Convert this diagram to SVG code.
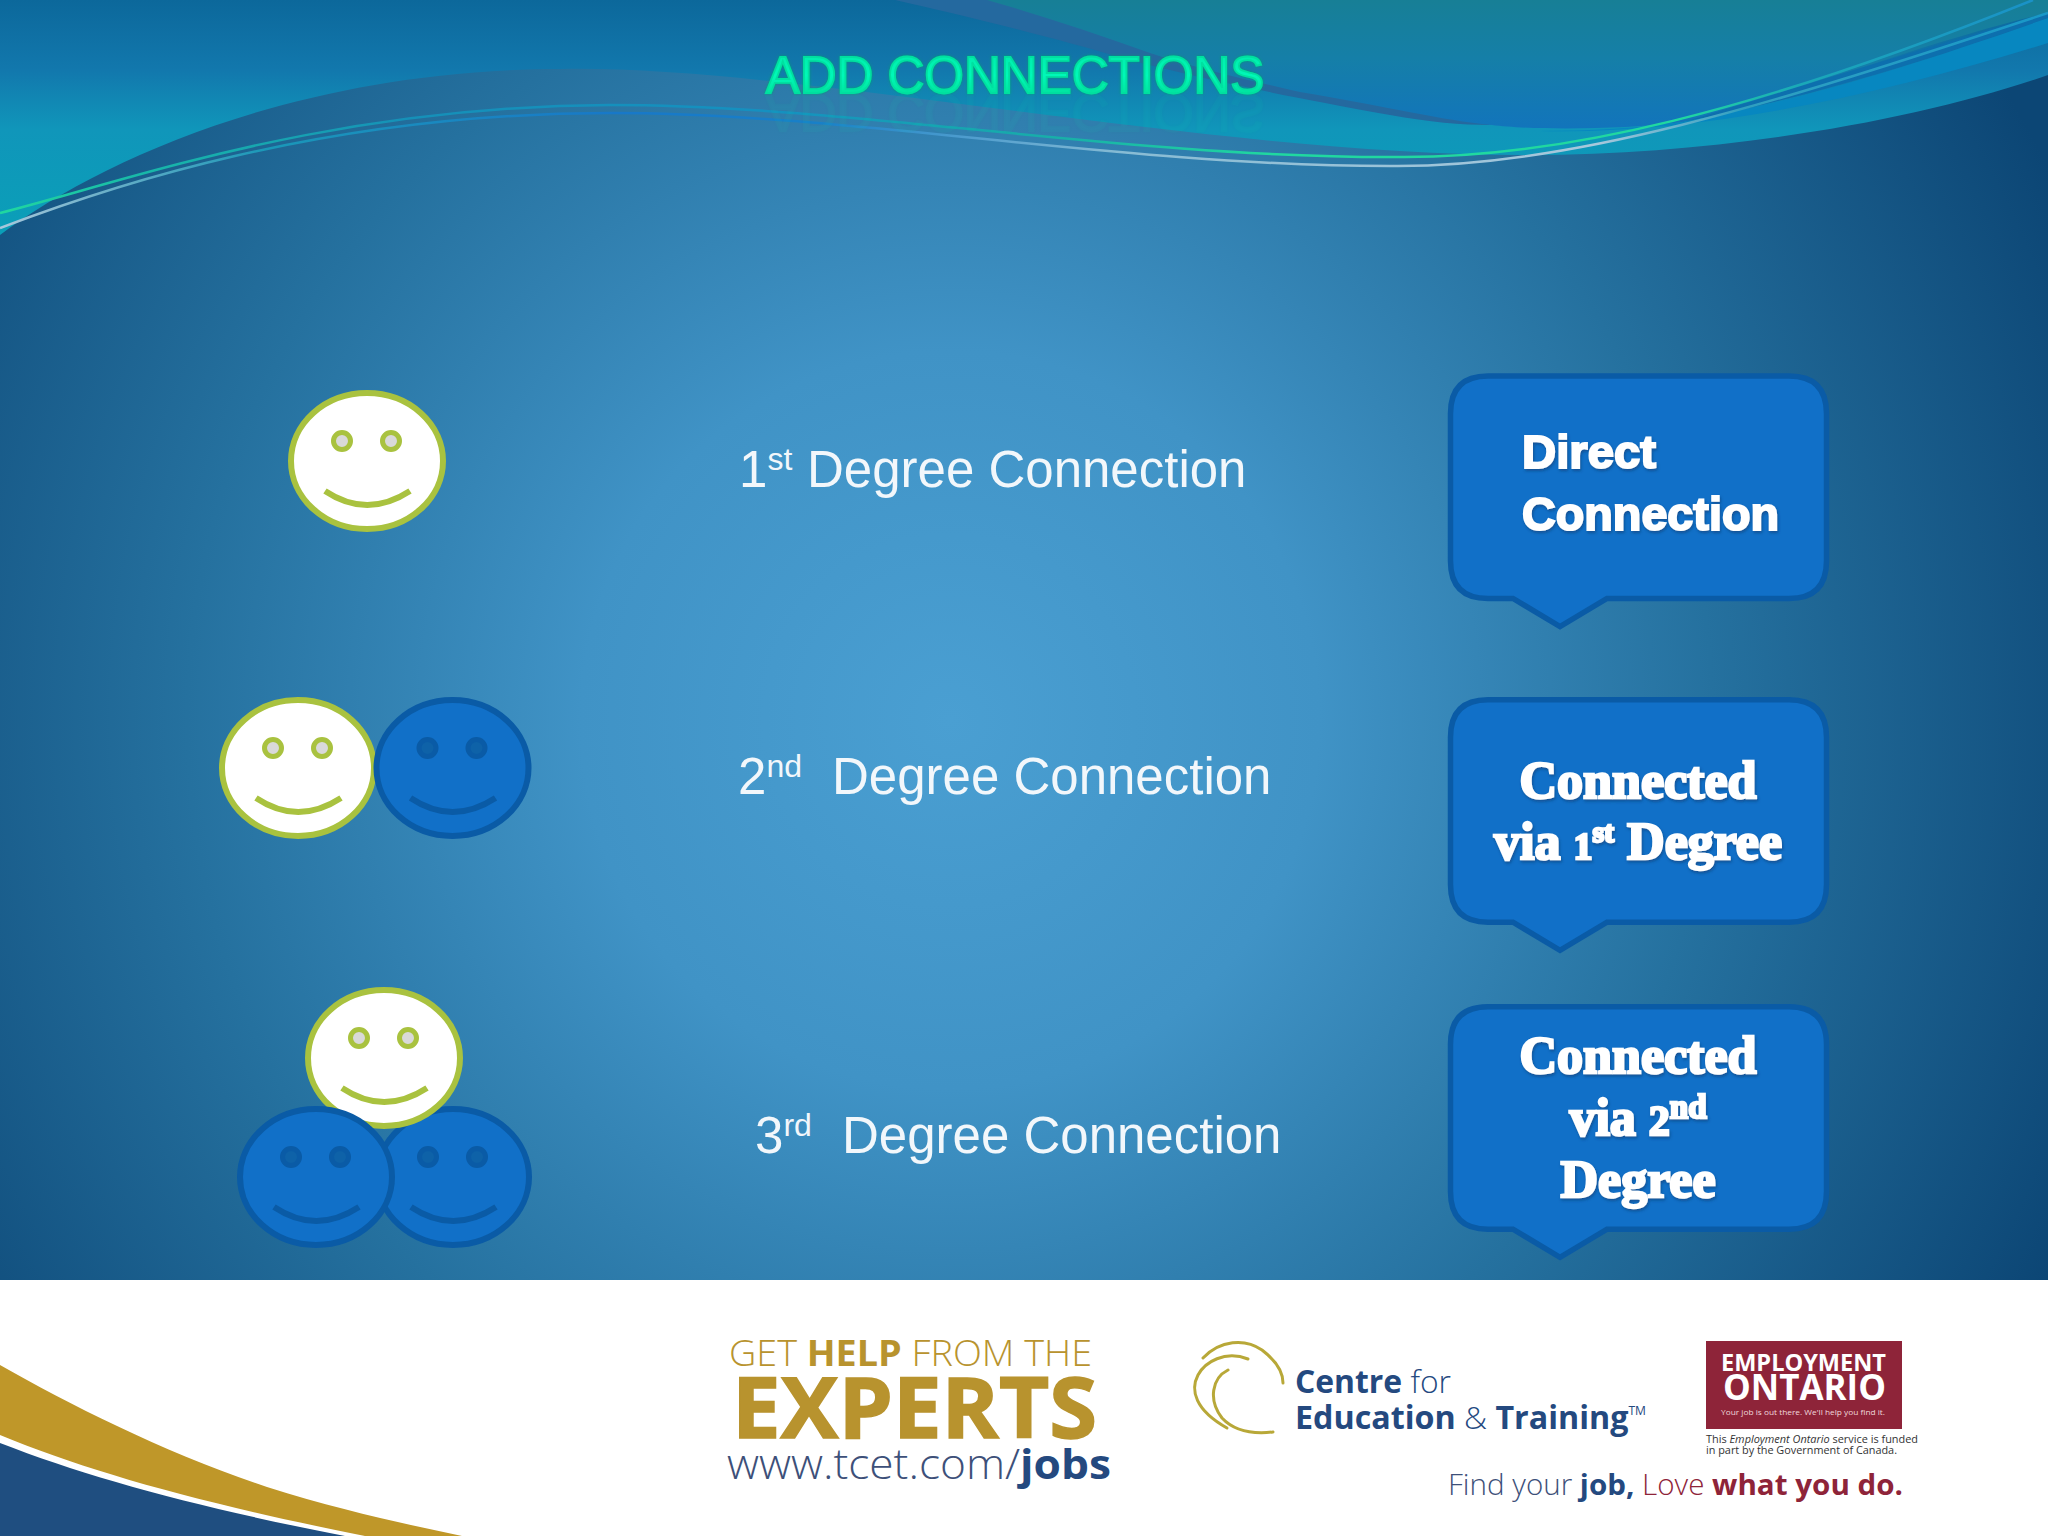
<svg xmlns="http://www.w3.org/2000/svg" width="2048" height="1536" viewBox="0 0 2048 1536">
<style>
.lbl{font-family:"Liberation Sans",Arial,sans-serif;font-size:51px;fill:#f2f7fb}
.sup{font-size:32px}
.sa{font-family:"Liberation Sans",Arial,sans-serif;font-weight:700;font-size:47px;fill:#fff;stroke:#fff;stroke-width:2px;filter:url(#sh)}
.se{font-family:"Liberation Serif","Times New Roman",serif;font-weight:700;font-size:52px;fill:#fff;stroke:#fff;stroke-width:2.500px;text-anchor:middle;filter:url(#sh)}
.bub{fill:#1170c8;stroke:#0a5ba6;stroke-width:5.5}
.os{font-family:"Open Sans","Liberation Sans",sans-serif}
.wf{fill:#fff;stroke:#a9c23f;stroke-width:6}.wl{fill:none;stroke:#a9c23f;stroke-width:6}.we{fill:#d9d9d9;stroke:#a9c23f;stroke-width:5}
.bf{fill:#1170c8;stroke:#0a5ba6;stroke-width:6}.bl{fill:none;stroke:#0a5ba6;stroke-width:6}.be{fill:#0e62a8;stroke:#0a5ba6;stroke-width:5}
</style>
<defs>
<radialGradient id="bg" gradientUnits="userSpaceOnUse" cx="950" cy="720" r="1230">
<stop offset="0" stop-color="#4a9fd2"/><stop offset=".3" stop-color="#4093c6"/><stop offset=".62" stop-color="#25719f"/><stop offset="1" stop-color="#0c4675"/>
</radialGradient>
<linearGradient id="tp" gradientUnits="userSpaceOnUse" x1="0" y1="0" x2="0" y2="235"><stop offset="0" stop-color="#0c689b"/><stop offset=".3" stop-color="#1278ad"/><stop offset=".55" stop-color="#1096ba"/><stop offset="1" stop-color="#0a9fb8"/></linearGradient>
<linearGradient id="in" gradientUnits="userSpaceOnUse" x1="0" y1="0" x2="0" y2="130"><stop offset="0" stop-color="#177f96"/><stop offset=".45" stop-color="#157fa8"/><stop offset="1" stop-color="#1274bc"/></linearGradient>
<linearGradient id="tl" x1="0" y1="0" x2="0" y2="1"><stop offset="0" stop-color="#00e8a8"/><stop offset=".5" stop-color="#00f8b8"/><stop offset="1" stop-color="#00d890"/></linearGradient>
<linearGradient id="l1" gradientUnits="userSpaceOnUse" x1="0" y1="0" x2="2048" y2="0"><stop offset="0" stop-color="#20d8a0"/><stop offset=".07" stop-color="#18b8a8"/><stop offset=".2" stop-color="#1590b8"/><stop offset=".38" stop-color="#1590c0"/><stop offset=".52" stop-color="#18b0a8"/><stop offset=".62" stop-color="#20d8a0"/><stop offset=".82" stop-color="#20d8a0"/><stop offset=".88" stop-color="#1aa8b8"/><stop offset="1" stop-color="#1a90c8"/></linearGradient>
<linearGradient id="l2" gradientUnits="userSpaceOnUse" x1="0" y1="0" x2="2048" y2="0"><stop offset="0" stop-color="#a8c8dc"/><stop offset=".05" stop-color="#6cb0c8"/><stop offset=".13" stop-color="#1a98b8"/><stop offset=".3" stop-color="#1878c8"/><stop offset=".4" stop-color="#1880c8"/><stop offset=".55" stop-color="#88bcd4"/><stop offset=".78" stop-color="#a8c8dc"/><stop offset=".85" stop-color="#30a0c0"/><stop offset="1" stop-color="#1898c8"/></linearGradient>
<filter id="sh" x="-10%" y="-20%" width="120%" height="140%"><feDropShadow dx="1" dy="2" stdDeviation="1.5" flood-color="#083a70" flood-opacity=".6"/></filter>
<filter id="tg" x="-5%" y="-30%" width="110%" height="160%"><feDropShadow dx="0" dy="0" stdDeviation="1.5" flood-color="#00a070" flood-opacity=".9"/></filter>
<g id="smw"><ellipse class="wf" rx="76" ry="68"/><circle class="we" cx="-25" cy="-20" r="8.5"/><circle class="we" cx="24" cy="-20" r="8.5"/><path class="wl" d="M-42 30Q0 58 43 30"/></g>
<g id="smb"><ellipse class="bf" rx="76" ry="68"/><circle class="be" cx="-25" cy="-20" r="8.5"/><circle class="be" cx="24" cy="-20" r="8.5"/><path class="bl" d="M-42 30Q0 58 43 30"/></g>
<path id="bb" d="M1488 373.5H1789Q1826.500 373.500 1826.500 411V558.500Q1826.500 596 1789 596H1607L1560 624L1513 596H1488Q1450.500 596 1450.500 558.500V411Q1450.500 373.500 1488 373.500Z"/>
</defs>
<g id="background">
<rect width="2048" height="1280" fill="url(#bg)"/>
<path d="M0 235C100 160 300 69 561 69C800 65 1200 155 1530 155C1720 155 1920 120 2048 75V0H0Z" fill="url(#tp)"/>
<path d="M895 0C960 15 1038 33 1130 60C1200 78 1268 93 1390 115C1430 122 1460 125 1492 125L1390 100L1100 0Z" fill="#24699f"/>
<path d="M987 0C1040 15 1094 33 1150 53C1200 70 1263 83 1300 92C1390 107 1440 120 1492 125C1530 130 1620 130 1683 122C1790 95 1930 40 2048 13V0Z" fill="url(#in)"/>
<path d="M1683 122C1800 87 1900 55 2048 13V18C1930 60 1800 100 1683 122Z" fill="#0d6fae"/>
<path d="M1540 131C1700 135 1880 95 2048 43V18C1900 70 1800 100 1683 122C1640 128 1590 131 1540 131Z" fill="#0787c0"/>
<path d="M0 213C130 180 330 106 610 105C850 105 1120 157 1390 157C1560 160 1760 110 2033 0" fill="none" stroke="url(#l1)" stroke-width="2.500"/>
<path d="M0 228C100 190 320 113 610 113C850 113 1120 166 1390 166C1570 168 1770 105 2048 13" fill="none" stroke="url(#l2)" stroke-width="2.500"/>
</g>
<g id="title">
<text id="ttl" x="1015" y="93" text-anchor="middle" font-family="Liberation Sans,Arial,sans-serif" font-size="51" fill="url(#tl)" stroke="#00e0a0" stroke-width="1.800" filter="url(#tg)">ADD CONNECTIONS</text>
<use href="#ttl" transform="translate(0 188) scale(1 -1)" opacity=".06"/>
</g>
<g id="row1-faces"><use href="#smw" x="367" y="461"/></g>
<g id="row2-faces"><use href="#smw" x="298" y="768"/><use href="#smb" x="452.500" y="768"/></g>
<g id="row3-faces"><use href="#smb" x="453" y="1177"/><use href="#smw" x="384" y="1058"/><use href="#smb" x="316" y="1177"/></g>
<g id="label1"><text class="lbl" x="739" y="487">1<tspan class="sup" dy="-17">st</tspan><tspan dy="17" x="807">Degree Connection</tspan></text></g>
<g id="label2"><text class="lbl" x="738" y="794">2<tspan class="sup" dy="-17">nd</tspan><tspan dy="17" x="832">Degree Connection</tspan></text></g>
<g id="label3"><text class="lbl" x="755" y="1153">3<tspan class="sup" dy="-17">rd</tspan><tspan dy="17" x="842">Degree Connection</tspan></text></g>
<g id="callout1"><use href="#bb" class="bub" y="2.500"/><text class="sa" x="1522" y="468" textLength="134" lengthAdjust="spacingAndGlyphs">Direct</text><text class="sa" x="1522" y="530" textLength="257" lengthAdjust="spacingAndGlyphs">Connection</text></g>
<g id="callout2"><use href="#bb" class="bub" y="326.250"/><text class="se" x="1638" y="798">Connected</text><text class="se" x="1638" y="859">via <tspan font-size="38">1</tspan><tspan font-size="30" dy="-17">st</tspan><tspan dy="17"> Degree</tspan></text></g>
<g id="callout3"><use href="#bb" class="bub" y="633.250"/><text class="se" x="1638" y="1073">Connected</text><text class="se" x="1638" y="1135">via <tspan font-size="42">2</tspan><tspan font-size="33" dy="-17">nd</tspan></text><text class="se" x="1638" y="1197">Degree</text></g>
<g id="footer">
<rect y="1280" width="2048" height="256" fill="#fff"/>
<path d="M0 1365C70 1405 170 1455 267 1487C340 1510 400 1523 462 1536H0Z" fill="#bf9729"/>
<path d="M0 1435C90 1472 200 1503 365 1536H0Z" fill="#fff"/>
<path d="M0 1443C90 1478 200 1508 345 1536H0Z" fill="#1f4e80"/>
</g>
<g id="experts" class="os">
<text x="729" y="1366" font-size="36" font-weight="300" fill="#b8932e" textLength="363" lengthAdjust="spacingAndGlyphs">GET <tspan font-weight="700">HELP</tspan> FROM THE</text>
<text x="732" y="1438" font-size="84" font-weight="700" fill="#b8932e" stroke="#b8932e" stroke-width="1.500" textLength="365" lengthAdjust="spacingAndGlyphs">EXPERTS</text>
<text x="727" y="1479" font-size="42" font-weight="300" fill="#3d5079" textLength="384" lengthAdjust="spacingAndGlyphs">www.tcet.com/<tspan font-weight="700" fill="#24497f">jobs</tspan></text>
</g>
<g id="tcet" class="os">
<g fill="none" stroke="#b8a838" stroke-linecap="round" stroke-width="3"><path d="M1203 1358C1220 1340 1245 1338 1262 1350C1275 1360 1283 1372 1283 1383"/><path d="M1248 1359C1225 1350 1205 1362 1198 1375C1190 1390 1195 1410 1227 1428"/><path d="M1228 1370C1212 1378 1208 1400 1222 1418C1235 1432 1255 1434 1273 1432"/></g>
<text x="1295" y="1393" font-size="32" fill="#24497f" textLength="156" lengthAdjust="spacingAndGlyphs"><tspan font-weight="700">Centre</tspan> <tspan font-weight="300">for</tspan></text>
<text x="1295" y="1429" font-size="32" fill="#24497f" textLength="351" lengthAdjust="spacingAndGlyphs"><tspan font-weight="700">Education</tspan> <tspan font-weight="300">&amp;</tspan> <tspan font-weight="700">Training</tspan><tspan font-size="12" dy="-14">TM</tspan></text>
</g>
<g id="employment-ontario" class="os">
<rect x="1706" y="1341" width="196" height="88" fill="#8e2439"/>
<text x="1721" y="1371" font-size="24" font-weight="700" fill="#fff" textLength="165" lengthAdjust="spacingAndGlyphs">EMPLOYMENT</text>
<text x="1723" y="1400" font-size="35" font-weight="700" fill="#fff" textLength="163" lengthAdjust="spacingAndGlyphs">ONTARIO</text>
<text x="1721" y="1415" font-size="8" fill="#f0d8dc" textLength="164" lengthAdjust="spacingAndGlyphs">Your job is out there. We'll help you find it.</text>
<text x="1706" y="1443" font-size="11" fill="#333" textLength="212" lengthAdjust="spacingAndGlyphs">This <tspan font-style="italic">Employment Ontario</tspan> service is funded</text>
<text x="1706" y="1454" font-size="11" fill="#333" textLength="191" lengthAdjust="spacingAndGlyphs">in part by the Government of Canada.</text>
<text x="1448" y="1495" font-size="29" textLength="455" lengthAdjust="spacingAndGlyphs"><tspan font-weight="300" fill="#3d5079">Find your </tspan><tspan font-weight="700" fill="#24497f">job, </tspan><tspan font-weight="300" fill="#8e2439">Love </tspan><tspan font-weight="700" fill="#8e2439">what you do.</tspan></text>
</g>
</svg>
